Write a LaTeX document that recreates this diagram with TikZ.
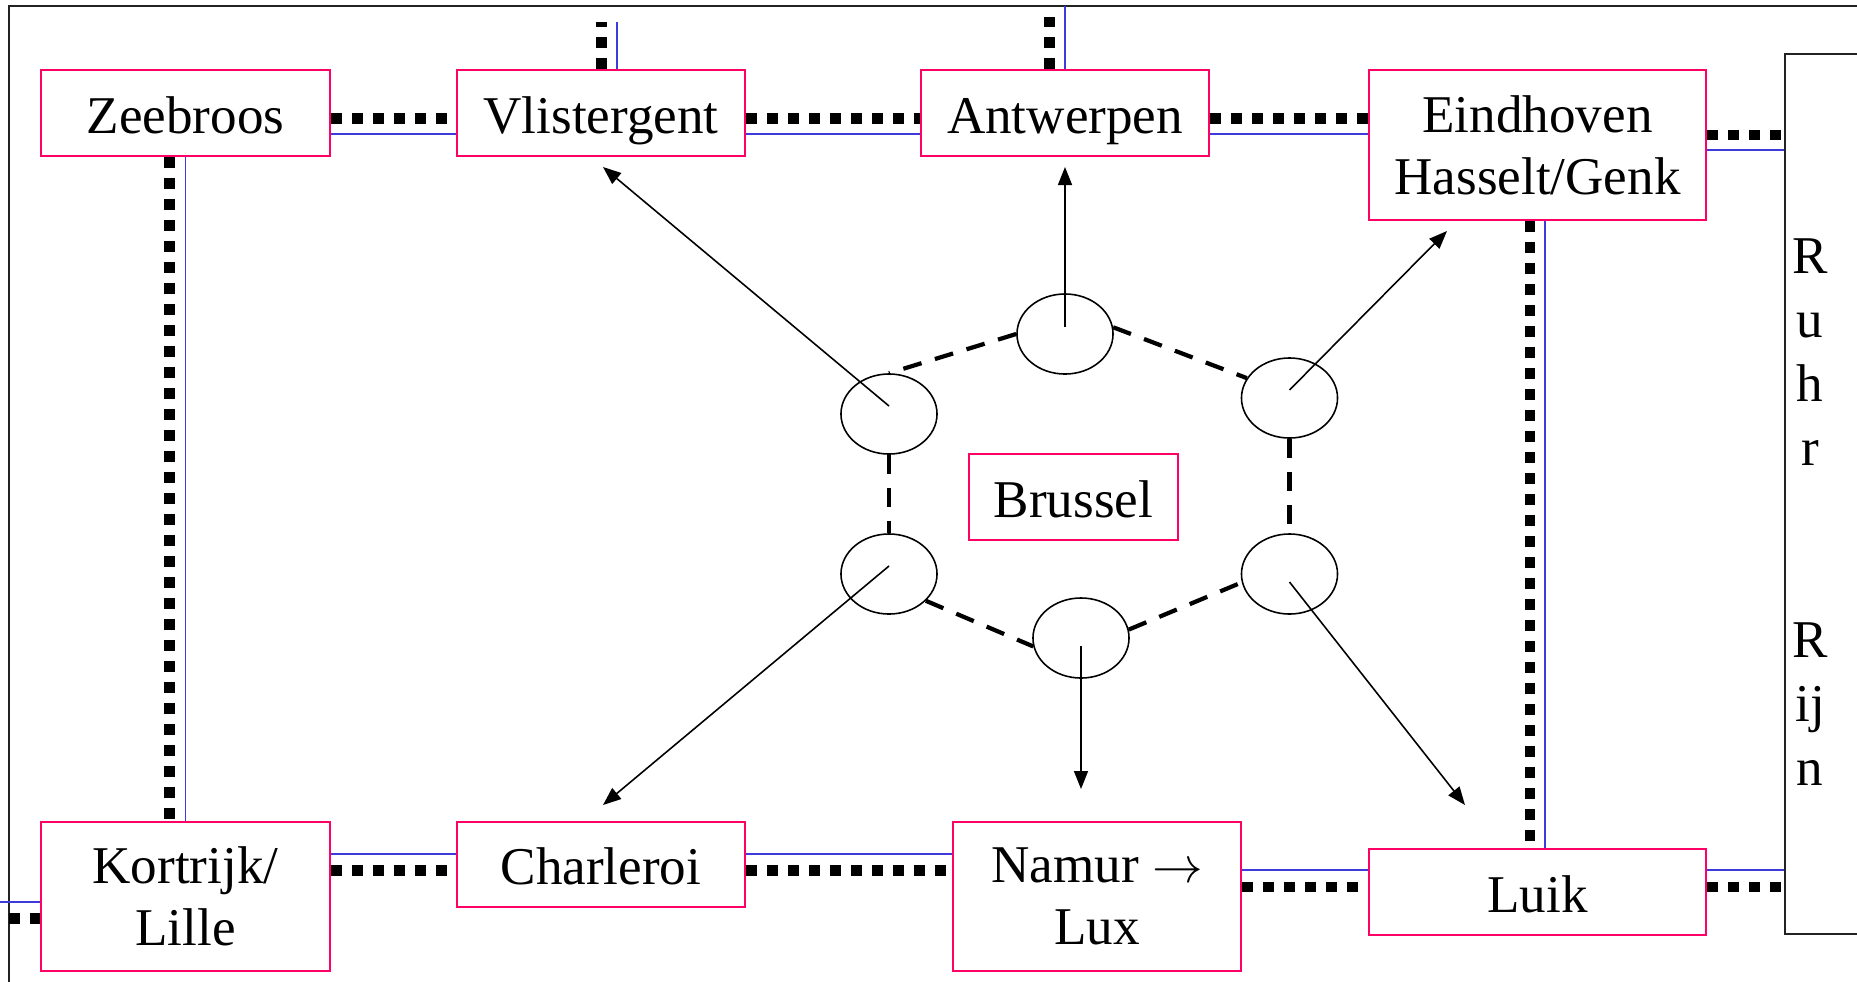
\documentclass[tikz,border=0pt]{standalone}
\usepackage{fontspec}
\setmainfont{Liberation Serif}
\usetikzlibrary{arrows.meta,shapes.geometric,calc}
\definecolor{boxpink}{RGB}{255,0,102}
\definecolor{railblue}{RGB}{60,60,220}
\definecolor{framegray}{RGB}{34,34,34}
\begin{document}
\begin{tikzpicture}[x=0.01cm,y=-0.01cm,
  cbox/.style={draw=boxpink,line width=0.6pt,fill=white,inner sep=0pt,align=center,
    font=\fontsize{15.1}{17.6}\selectfont},
  onebox/.style={cbox,text height=12.2pt,text depth=0.8pt},
  dotrail/.style={line width=0.107cm,dash pattern=on 0.107cm off 0.103cm},
  bluerail/.style={draw=railblue,line width=0.5pt},
  ring/.style={draw,ellipse,line width=0.45pt,minimum width=0.96cm,minimum height=0.80cm,inner sep=0pt},
  hexdash/.style={line width=1.2pt,dash pattern=on 0.19cm off 0.14cm},
  flow/.style={line width=0.45pt,-{Triangle[length=0.18cm,width=0.14cm]}},
  letter/.style={anchor=base,inner sep=0pt,font=\fontsize{15.1}{17.6}\selectfont}]
\clip (0,0) rectangle (1857,981);
\fill[white] (0,0) rectangle (1857,981);
% outer frame
\draw[framegray,line width=0.6pt] (9,6) rectangle (1950,1050);
\coordinate (ftop) at (0,6);
\coordinate (fleft) at (9,0);
\coordinate (pageleft) at (0,0);
% Ruhr/Rijn box
\node[draw=framegray,line width=0.6pt,minimum width=1.15cm,minimum height=8.80cm,inner sep=0pt] (ruhr) at (1842.5,494) {};
\node[letter] (l1) at (1810,273) {R};
\node[letter] (l2) at (1810,337) {u};
\node[letter] (l3) at (1810,401) {h};
\node[letter] (l4) at (1810,465) {r};
\node[letter] (l5) at (1810,657) {R};
\node[letter] (l6) at (1810,721) {ij};
\node[letter] (l7) at (1810,785) {n};
% level coordinates
\coordinate (yTopDot) at (0,118.5);
\coordinate (yTopBlue) at (0,134);
\coordinate (yEinDot) at (0,135);
\coordinate (yEinBlue) at (0,150);
\coordinate (yBotBlueA) at (0,854);
\coordinate (yBotDotA) at (0,870.5);
\coordinate (yBotBlueB) at (0,870);
\coordinate (yBotDotB) at (0,887);
\coordinate (yLeftBlue) at (0,902);
\coordinate (yLeftDot) at (0,918.5);
\coordinate (xZeeDot) at (169.5,0);
\coordinate (xEinDot) at (1530,0);
\coordinate (xEinBlue) at (1545,0);
\coordinate (xVliDot) at (601.5,0);
\coordinate (xVliBlue) at (617,0);
\coordinate (xAntDot) at (1049.5,0);
\coordinate (yVliTop) at (0,22);
\coordinate (yAntDotTop) at (0,17);
% boxes
\node[onebox,minimum width=2.89cm,minimum height=0.86cm] (zee) at (185.5,113) {Zeebroos};
\node[onebox,minimum width=2.88cm,minimum height=0.86cm] (vli) at (601,113) {Vlistergent};
\node[onebox,minimum width=2.88cm,minimum height=0.86cm] (ant) at (1065,113) {Antwerpen};
\node[cbox,minimum width=3.37cm,minimum height=1.50cm] (ein) at (1537.5,145) {Eindhoven\\Hasselt/Genk};
\node[onebox,minimum width=2.09cm,minimum height=0.86cm] (bru) at (1073.5,497) {Brussel};
\node[cbox,minimum width=2.89cm,minimum height=1.49cm] (kor) at (185.5,896.5) {Kortrijk/\\Lille};
\node[onebox,minimum width=2.88cm,minimum height=0.85cm] (cha) at (601,864.5) {Charleroi};
\node[cbox,minimum width=2.88cm,minimum height=1.49cm] (nam) at (1097,896.5) {Namur $\rightarrow$\\Lux};
\node[onebox,minimum width=3.37cm,minimum height=0.86cm] (lui) at (1537.5,892) {Luik};
% rails top row
\draw[dotrail] (zee.east |- yTopDot) -- (vli.west |- yTopDot);
\draw[bluerail] (zee.east |- yTopBlue) -- (vli.west |- yTopBlue);
\draw[dotrail] (vli.east |- yTopDot) -- (ant.west |- yTopDot);
\draw[bluerail] (vli.east |- yTopBlue) -- (ant.west |- yTopBlue);
\draw[dotrail] (ant.east |- yTopDot) -- (ein.west |- yTopDot);
\draw[bluerail] (ant.east |- yTopBlue) -- (ein.west |- yTopBlue);
\draw[dotrail] (ein.east |- yEinDot) -- (ruhr.west |- yEinDot);
\draw[bluerail] (ein.east |- yEinBlue) -- (ruhr.west |- yEinBlue);
% rails going up
\draw[dotrail] (xVliDot |- vli.north) -- (xVliDot |- yVliTop);
\draw[bluerail] (xVliBlue |- vli.north) -- (xVliBlue |- yVliTop);
\draw[dotrail] (xAntDot |- ant.north) -- (xAntDot |- yAntDotTop);
\draw[bluerail] (ant.north) -- (ant.north |- ftop);
% vertical rails
\draw[dotrail] (xZeeDot |- zee.south) -- (xZeeDot |- kor.north);
\draw[bluerail] (zee.south) -- (kor.north);
\draw[dotrail] (xEinDot |- ein.south) -- (xEinDot |- lui.north);
\draw[bluerail] (xEinBlue |- ein.south) -- (xEinBlue |- lui.north);
% bottom row
\draw[dotrail] (kor.east |- yBotDotA) -- (cha.west |- yBotDotA);
\draw[bluerail] (kor.east |- yBotBlueA) -- (cha.west |- yBotBlueA);
\draw[dotrail] (cha.east |- yBotDotA) -- (nam.west |- yBotDotA);
\draw[bluerail] (cha.east |- yBotBlueA) -- (nam.west |- yBotBlueA);
\draw[dotrail] (nam.east |- yBotDotB) -- (lui.west |- yBotDotB);
\draw[bluerail] (nam.east |- yBotBlueB) -- (lui.west |- yBotBlueB);
\draw[dotrail] (lui.east |- yBotDotB) -- (ruhr.west |- yBotDotB);
\draw[bluerail] (lui.east |- yBotBlueB) -- (ruhr.west |- yBotBlueB);
\draw[dotrail] (fleft |- yLeftDot) -- (kor.west |- yLeftDot);
\draw[bluerail] (pageleft |- yLeftBlue) -- (kor.west |- yLeftBlue);
% Brussel ring
\node[ring] (t)  at (1065,334) {};
\node[ring] (ul) at (889,414) {};
\node[ring] (ur) at (1289.5,398) {};
\node[ring] (ll) at (889,574) {};
\node[ring] (lr) at (1289.5,574) {};
\node[ring] (b)  at (1081,638) {};
\draw[hexdash] (t.west) -- (ul.north);
\draw[hexdash] (t.8) -- (ur.155);
\draw[hexdash] (ul.south) -- (ll.north);
\draw[hexdash] (ur.south) -- (lr.north);
\draw[hexdash] (ll.-36) -- (b.190);
\draw[hexdash] (b.10) -- (lr.190);
% arrows
\coordinate (tipV) at (603,167);
\coordinate (tipA) at (1065,167);
\coordinate (tipE) at (1447,231);
\coordinate (tipC) at (603,805);
\coordinate (tipN) at (1081,789);
\coordinate (tipL) at (1465,805);
\draw[flow] ($(ul.center)+(0,-8)$) -- (tipV);
\draw[flow] ($(t.center)+(0,-7)$) -- (tipA);
\draw[flow] ($(ur.center)+(0,-8)$) -- (tipE);
\draw[flow] ($(ll.center)+(0,-8)$) -- (tipC);
\draw[flow] ($(b.center)+(0,8)$) -- (tipN);
\draw[flow] ($(lr.center)+(0,8)$) -- (tipL);
\end{tikzpicture}
\end{document}
